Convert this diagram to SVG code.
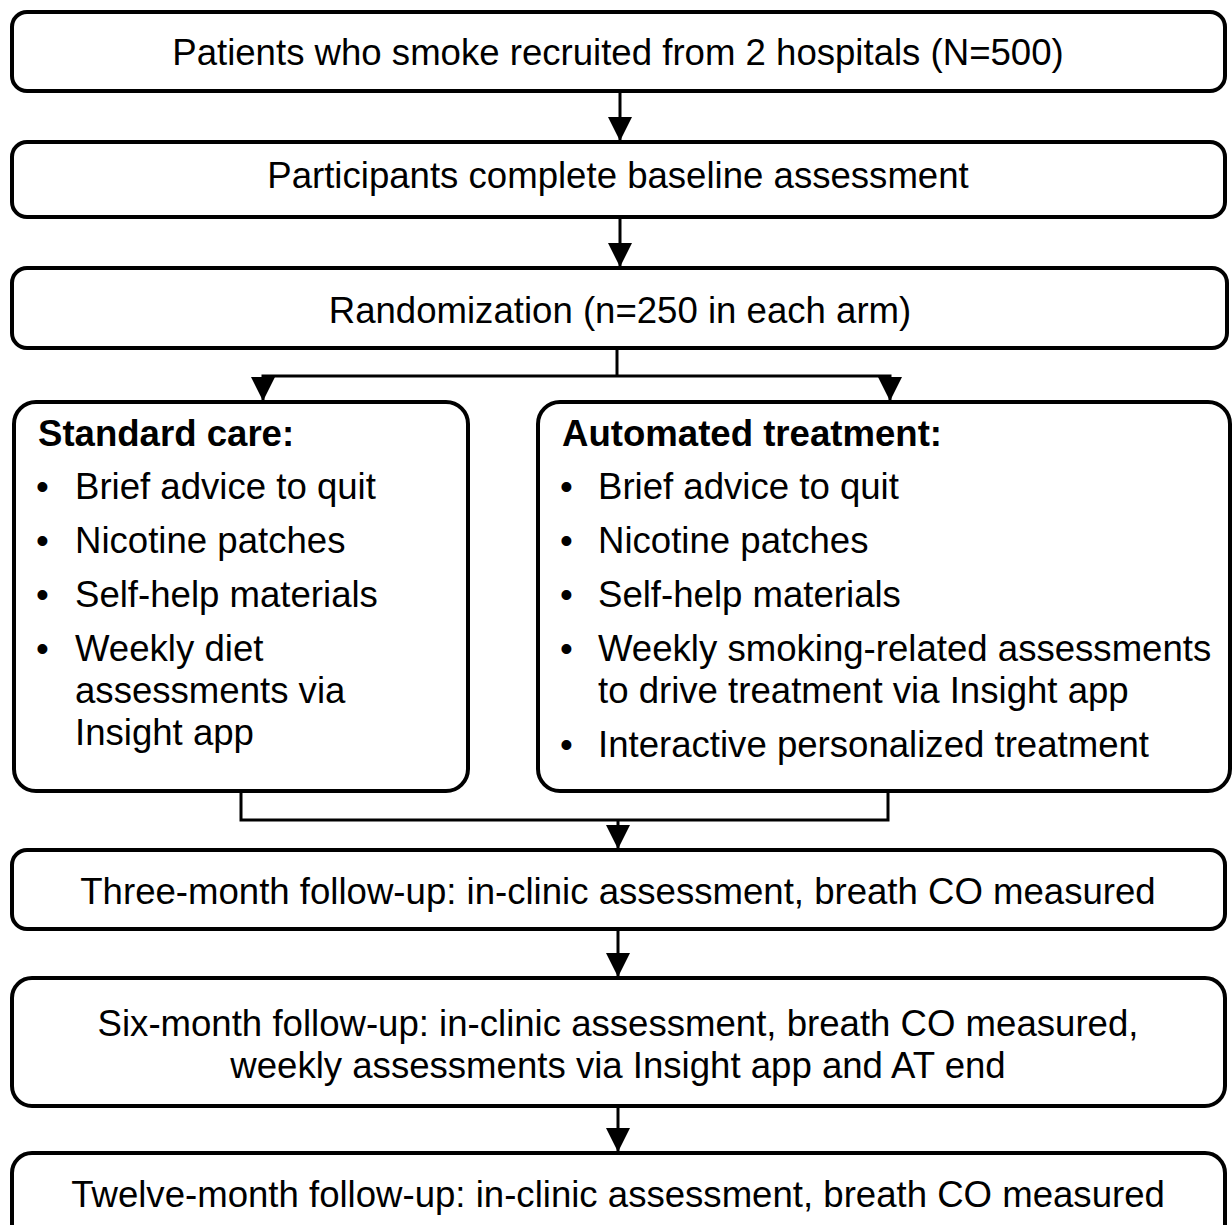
<svg xmlns="http://www.w3.org/2000/svg" width="1232" height="1225" viewBox="0 0 1232 1225">
<style>
.box{fill:#fff;stroke:#000;stroke-width:4}
.t{font-family:"Liberation Sans",Arial,sans-serif;font-size:36.6px;fill:#000}
.c{text-anchor:middle}
.b{font-weight:bold}
.ln{fill:none;stroke:#000;stroke-width:3}
</style>
<defs>
<marker id="ah" markerUnits="userSpaceOnUse" markerWidth="24" markerHeight="24" refX="24" refY="12" orient="auto" viewBox="0 0 24 24">
<path d="M0,0 L24,12 L0,24 z" fill="#000"/>
</marker>
</defs>
<rect width="1232" height="1225" fill="#fff"/>
<g id="connectors">
<line class="ln" x1="620" y1="92" x2="620" y2="141" marker-end="url(#ah)"/>
<line class="ln" x1="620" y1="218" x2="620" y2="267" marker-end="url(#ah)"/>
<path class="ln" d="M617,348 V376"/>
<path class="ln" d="M617,376 H263 V401" marker-end="url(#ah)"/>
<path class="ln" d="M617,376 H890 V401" marker-end="url(#ah)"/>
<path class="ln" d="M241,792 V820 H888 V792"/>
<line class="ln" x1="618" y1="820" x2="618" y2="849" marker-end="url(#ah)"/>
<line class="ln" x1="618" y1="930" x2="618" y2="977" marker-end="url(#ah)"/>
<line class="ln" x1="618" y1="1106" x2="618" y2="1152" marker-end="url(#ah)"/>
</g>
<g id="n1">
<rect class="box" x="12" y="12" width="1213" height="79" rx="15"/>
<text class="t c" x="618" y="65">Patients who smoke recruited from 2 hospitals (N=500)</text>
</g>
<g id="n2">
<rect class="box" x="12" y="142" width="1213" height="75" rx="15"/>
<text class="t c" x="618" y="188">Participants complete baseline assessment</text>
</g>
<g id="n3">
<rect class="box" x="12" y="268" width="1215" height="80" rx="15"/>
<text class="t c" x="620" y="323">Randomization (n=250 in each arm)</text>
</g>
<g id="n4">
<rect class="box" x="14" y="402" width="454" height="389" rx="22"/>
<text class="t b" x="38" y="446">Standard care:</text>
<text class="t" x="36" y="499">•</text><text class="t" x="75" y="499">Brief advice to quit</text>
<text class="t" x="36" y="553">•</text><text class="t" x="75" y="553">Nicotine patches</text>
<text class="t" x="36" y="607">•</text><text class="t" x="75" y="607">Self-help materials</text>
<text class="t" x="36" y="661">•</text><text class="t" x="75" y="661">Weekly diet</text>
<text class="t" x="75" y="703">assessments via</text>
<text class="t" x="75" y="745">Insight app</text>
</g>
<g id="n5">
<rect class="box" x="538" y="402" width="692" height="389" rx="22"/>
<text class="t b" x="562" y="446">Automated treatment:</text>
<text class="t" x="560" y="499">•</text><text class="t" x="598" y="499">Brief advice to quit</text>
<text class="t" x="560" y="553">•</text><text class="t" x="598" y="553">Nicotine patches</text>
<text class="t" x="560" y="607">•</text><text class="t" x="598" y="607">Self-help materials</text>
<text class="t" x="560" y="661">•</text><text class="t" x="598" y="661">Weekly smoking-related assessments</text>
<text class="t" x="598" y="703">to drive treatment via Insight app</text>
<text class="t" x="560" y="757">•</text><text class="t" x="598" y="757">Interactive personalized treatment</text>
</g>
<g id="n6">
<rect class="box" x="12" y="850" width="1213" height="79" rx="15"/>
<text class="t c" x="618" y="904">Three-month follow-up: in-clinic assessment, breath CO measured</text>
</g>
<g id="n7">
<rect class="box" x="12" y="978" width="1213" height="128" rx="20"/>
<text class="t c" x="618" y="1036">Six-month follow-up: in-clinic assessment, breath CO measured,</text>
<text class="t c" x="618" y="1078">weekly assessments via Insight app and AT end</text>
</g>
<g id="n8">
<rect class="box" x="12" y="1153" width="1213" height="100" rx="20"/>
<text class="t c" x="618" y="1207">Twelve-month follow-up: in-clinic assessment, breath CO measured</text>
</g>
</svg>
